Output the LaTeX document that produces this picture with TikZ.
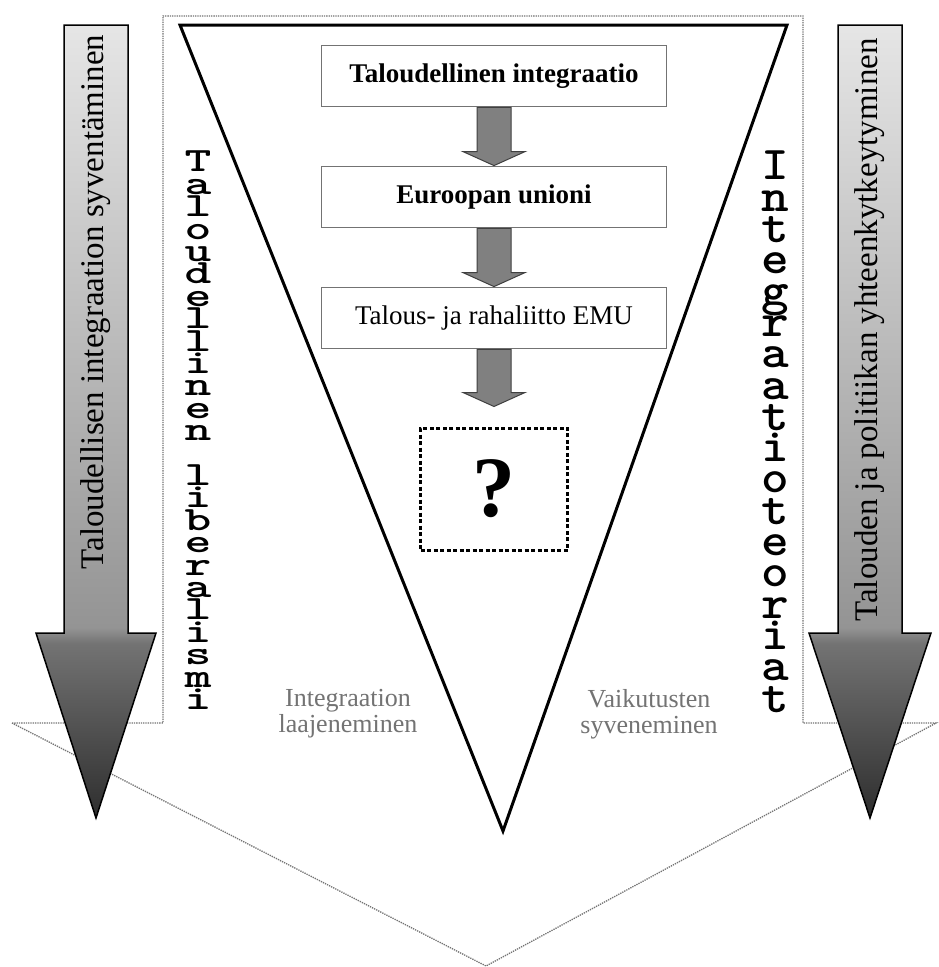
\documentclass[tikz,border=0pt]{standalone}
\usepackage{fontspec}
\setmainfont{Liberation Serif}
\usepackage{tikz}
\usetikzlibrary{calc}

% grey shading of the two long arrows (tip dark, top light)
\pgfdeclareverticalshading{longarrowshade}{100bp}{color(0bp)=(black!82); color(25bp)=(black!82);
  color(36bp)=(black!55); color(37bp)=(black!42); color(75bp)=(black!10); color(100bp)=(black!10)}

\newcommand{\flowarrow}[2]{%
  \draw[flowarrow] ($(#1)+(-17,0)$) -- ($(#2)+(-17,-14)$) -- ($(#2)+(-31,-14)$) -- (#2)
    -- ($(#2)+(31,-14)$) -- ($(#2)+(17,-14)$) -- ($(#1)+(17,0)$) -- cycle;}

\begin{document}
\begin{tikzpicture}[x=1pt, y=-1pt,
    flowbox/.style={draw=black!55, line width=1.8pt, fill=white, minimum width=345pt,
      minimum height=61pt, inner sep=0pt},
    flowarrow/.style={draw=black!75, line width=1pt, fill=black!50},
    longarrow/.style={draw=black, line width=1.5pt, shading=longarrowshade},
    stackword/.style={anchor=north, inner sep=0pt, align=center,
      execute at begin node={\lineskiplimit=-50pt}},
    sidelabel/.style={align=center, text=black!55, font=\fontsize{26}{26}\selectfont}]
    \fill[white] (0,0) rectangle (938,967);
    \useasboundingbox (0,0) rectangle (938,967);

    % big dotted outline
    \draw[densely dotted, black!55, line width=1.3pt] (12,723) -- (163,723) -- (163,16) -- (803,16)
      -- (803,723) -- (936,723) -- (486,966) -- cycle;

    % long arrows at the sides
    \draw[longarrow] (64,25) -- (128,25) -- (128,633) -- (156,633) -- (96,818) -- (36,633) -- (64,633) -- cycle;
    \draw[longarrow] (838,25) -- (902,25) -- (902,633) -- (931,633) -- (870,818) -- (809,633) -- (838,633) -- cycle;
    \node[rotate=90, font=\fontsize{33}{33}\selectfont] (deep) at (96,302) {Taloudellisen integraation syventäminen};
    \node[rotate=90, font=\fontsize{33}{33}\selectfont] (link) at (870,330) {Talouden ja politiikan yhteenkytkeytyminen};

    % triangle
    \draw[line width=3pt] (180,25) -- (787,25) -- (503,831) -- cycle;

    % boxes
    \node[flowbox, font=\bfseries\fontsize{27}{27}\selectfont] (integ) at (494,76) {Taloudellinen integraatio};
    \node[flowbox, font=\bfseries\fontsize{27}{27}\selectfont] (eu) at (494,197) {Euroopan unioni};
    \node[flowbox, font=\fontsize{27}{27}\selectfont] (emu) at (494,318) {Talous- ja rahaliitto EMU};
    \node[draw, dash pattern=on 4pt off 2.5pt, line width=3pt, minimum width=147pt, minimum height=122pt,
      font=\bfseries\fontsize{86}{86}\selectfont] (future) at (494,489) {?};
    \coordinate (futuretip) at ($(future.north)+(0,-20)$);

    \flowarrow{integ.south}{eu.north}
    \flowarrow{eu.south}{emu.north}
    \flowarrow{emu.south}{futuretip}

    % stacked words
    \node[stackword, xscale=1.5, font=\fontsize{34}{22.4}\selectfont\ttfamily\bfseries] (liberal) at (198,151)
      {T\\a\\l\\o\\u\\d\\e\\l\\l\\i\\n\\e\\n\\~\\l\\i\\b\\e\\r\\a\\l\\i\\s\\m\\i};
    \node[stackword, xscale=1.12, font=\fontsize{47}{31.3}\selectfont\ttfamily\bfseries] (theory) at (775,151)
      {I\\n\\t\\e\\g\\r\\a\\a\\t\\i\\o\\t\\e\\o\\r\\i\\a\\t};

    % labels under the triangle sides
    \node[sidelabel] (wide) at (348,714) {Integraation\\laajeneminen};
    \node[sidelabel] (deepen) at (649,714) {Vaikutusten\\syveneminen};
\end{tikzpicture}
\end{document}
